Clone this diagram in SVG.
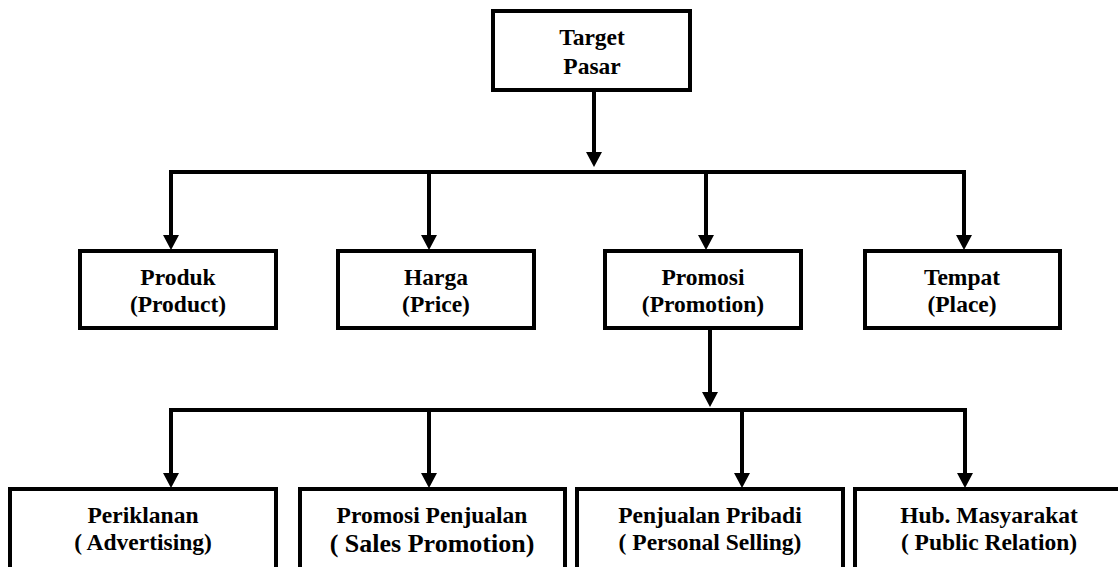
<svg xmlns="http://www.w3.org/2000/svg" width="1118" height="567" viewBox="0 0 1118 567">
<style>
.box{fill:#fff;stroke:#000;stroke-width:4}
text{font-family:'Liberation Serif',serif;font-weight:700;font-size:23.5px;fill:#000;text-anchor:middle}
.big{font-size:26px}
.ln{fill:none;stroke:#000;stroke-width:4;stroke-linejoin:miter}
.ah{fill:#000}
</style>
<rect width="1118" height="567" fill="#fff"/>
<g id="connectors">
<path class="ln" d="M594,92 V153"/>
<polygon class="ah" points="586,152 602,152 594,167"/>
<path class="ln" d="M171,236 V172 H964 V236 M429,172 V236 M706,172 V236"/>
<polygon class="ah" points="163,235 179,235 171,250"/>
<polygon class="ah" points="421,235 437,235 429,250"/>
<polygon class="ah" points="698,235 714,235 706,250"/>
<polygon class="ah" points="956,235 972,235 964,250"/>
<path class="ln" d="M710,330 V393"/>
<polygon class="ah" points="702,392 718,392 710,407"/>
<path class="ln" d="M171,474 V410 H965 V474 M429,410 V474 M742,410 V474"/>
<polygon class="ah" points="163,473 179,473 171,488"/>
<polygon class="ah" points="421,473 437,473 429,488"/>
<polygon class="ah" points="734,473 750,473 742,488"/>
<polygon class="ah" points="957,473 973,473 965,488"/>
</g>
<g id="target">
<rect class="box" x="493" y="11" width="197" height="79"/>
<text x="592" y="45">Target</text>
<text x="592" y="74">Pasar</text>
</g>
<g id="produk">
<rect class="box" x="80" y="251" width="196" height="77"/>
<text x="178" y="285">Produk</text>
<text x="178" y="312">(Product)</text>
</g>
<g id="harga">
<rect class="box" x="338" y="251" width="196" height="77"/>
<text x="436" y="285">Harga</text>
<text x="436" y="312">(Price)</text>
</g>
<g id="promosi">
<rect class="box" x="605" y="251" width="196" height="77"/>
<text x="703" y="285">Promosi</text>
<text x="703" y="312">(Promotion)</text>
</g>
<g id="tempat">
<rect class="box" x="865" y="251" width="195" height="77"/>
<text x="962" y="285">Tempat</text>
<text x="962" y="312">(Place)</text>
</g>
<g id="periklanan">
<rect class="box" x="10" y="489" width="266" height="90"/>
<text x="143" y="523">Periklanan</text>
<text x="143" y="550">( Advertising)</text>
</g>
<g id="promosi-penjualan">
<rect class="box" x="300" y="489" width="265" height="90"/>
<text x="432" y="523">Promosi Penjualan</text>
<text class="big" x="432" y="552">( Sales Promotion)</text>
</g>
<g id="penjualan-pribadi">
<rect class="box" x="577" y="489" width="266" height="90"/>
<text x="710" y="523">Penjualan Pribadi</text>
<text x="710" y="550">( Personal Selling)</text>
</g>
<g id="hub-masyarakat">
<rect class="box" x="855" y="489" width="270" height="90"/>
<text x="989" y="523">Hub. Masyarakat</text>
<text x="989" y="550">( Public Relation)</text>
</g>
</svg>
